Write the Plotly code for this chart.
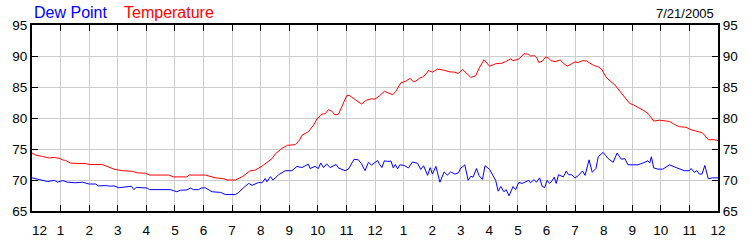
import plotly.graph_objects as go

# ---- data ----
hour_ticks = list(range(25))
hour_labels = ["\u00a0\u00a0\u00a0\u00a012", "1", "2", "3", "4", "5", "6", "7", "8", "9", "10", "11",
               "12", "1", "2", "3", "4", "5", "6", "7", "8", "9", "10", "11", "12"]
temp_ticks = [65, 70, 75, 80, 85, 90, 95]

temp_hours = [0, 0.14, 0.37, 0.6, 0.78, 0.95, 1.07, 1.18, 1.36, 1.88, 2.0, 2.46, 2.87, 3.16, 3.51, 3.68,
              3.97, 4.11, 4.78, 4.96, 5.42, 5.5, 6.06, 6.42, 6.71, 6.83, 7.12, 7.35, 7.62, 7.81, 8.05,
              8.22, 8.4, 8.51, 8.74, 8.94, 9.21, 9.36, 9.44, 9.67, 9.85, 9.97, 10.14, 10.26, 10.37,
              10.49, 10.6, 10.72, 10.84, 11.01, 11.1, 11.3, 11.53, 11.69, 11.88, 12.0, 12.15, 12.33,
              12.44, 12.62, 12.73, 12.9, 13.08, 13.23, 13.34, 13.43, 13.55, 13.66, 13.78, 13.87,
              14.01, 14.19, 14.42, 14.6, 14.77, 14.92, 15.06, 15.17, 15.35, 15.52, 15.64, 15.81,
              16.01, 16.22, 16.45, 16.57, 16.74, 16.83, 16.92, 17.03, 17.21, 17.36, 17.44, 17.58,
              17.67, 17.73, 17.85, 17.97, 18.08, 18.15, 18.3, 18.48, 18.59, 18.73, 18.88, 19.0,
              19.11, 19.26, 19.4, 19.52, 19.64, 19.81, 19.93, 20.0, 20.1, 20.22, 20.39, 20.56,
              20.74, 20.91, 21.03, 21.2, 21.38, 21.55, 21.67, 21.75, 21.95, 22.13, 22.3, 22.48,
              22.65, 22.88, 23.06, 23.23, 23.46, 23.55, 23.67, 23.87, 24.0]
temp_values = [74.35, 74.0, 73.8, 73.55, 73.65, 73.5, 73.25, 73.15, 72.7, 72.65, 72.5, 72.5, 71.75, 71.5,
               71.4, 71.15, 71.1, 70.8, 70.8, 70.5, 70.5, 70.8, 70.8, 70.35, 70.2, 70.0, 70.0, 70.5,
               71.45, 71.6, 72.25, 72.85, 73.45, 74.2, 75.1, 75.6, 75.7, 76.45, 77.2, 77.8, 78.85,
               79.85, 80.65, 80.7, 81.35, 81.1, 80.5, 80.6, 81.75, 83.6, 83.65, 82.95, 82.25, 82.85,
               83.1, 83.05, 83.55, 84.3, 84.1, 83.75, 84.3, 85.65, 85.95, 86.4, 85.85, 85.95, 86.4,
               86.6, 87.05, 87.65, 87.4, 87.9, 87.7, 87.45, 87.4, 87.2, 87.85, 87.3, 86.55, 86.8,
               88.0, 89.4, 88.35, 88.75, 88.85, 89.1, 89.55, 89.25, 89.4, 89.5, 90.35, 90.3, 90.0,
               90.05, 89.65, 88.95, 89.15, 89.85, 89.65, 89.25, 89.1, 89.35, 88.85, 88.35, 88.75,
               89.05, 88.95, 89.25, 89.2, 88.85, 88.5, 88.25, 87.9, 87.25, 86.5, 86.0, 85.35, 84.35,
               83.4, 82.35, 82.15, 81.75, 81.25, 80.75, 80.1, 79.5, 79.65, 79.5, 79.45, 78.95, 78.6,
               78.5, 78.1, 77.9, 77.6, 77.1, 76.5, 76.5, 76.35]

dew_hours = [0, 0.08, 0.26, 0.55, 0.78, 0.89, 1.07, 1.24, 1.53, 1.76, 2.0, 2.23, 2.32, 2.58, 2.75, 2.87,
             3.04, 3.22, 3.33, 3.48, 3.56, 3.65, 4.03, 4.11, 4.84, 4.92, 5.07, 5.19, 5.42, 5.54, 5.65,
             5.83, 5.92, 6.06, 6.3, 6.6, 6.77, 7.12, 7.23, 7.4, 7.58, 7.7, 7.93, 8.05, 8.16, 8.22,
             8.34, 8.43, 8.63, 8.86, 9.09, 9.27, 9.44, 9.56, 9.67, 9.73, 9.9, 10.02, 10.1, 10.2,
             10.31, 10.43, 10.64, 10.72, 10.84, 10.95, 11.07, 11.27, 11.42, 11.53, 11.65, 11.77,
             11.88, 12.0, 12.09, 12.15, 12.24, 12.33, 12.44, 12.56, 12.64, 12.71, 12.79, 12.87,
             13.02, 13.17, 13.31, 13.49, 13.6, 13.7, 13.84, 13.93, 14.01, 14.13, 14.27, 14.42,
             14.53, 14.65, 14.8, 14.92, 15.0, 15.06, 15.14, 15.26, 15.35, 15.43, 15.55, 15.64,
             15.76, 15.85, 16.01, 16.16, 16.22, 16.31, 16.4, 16.51, 16.59, 16.69, 16.83, 16.92,
             17.03, 17.15, 17.27, 17.38, 17.44, 17.56, 17.65, 17.76, 17.85, 17.94, 18.02, 18.11,
             18.19, 18.27, 18.34, 18.42, 18.54, 18.59, 18.69, 18.77, 18.88, 19.0, 19.11, 19.26,
             19.35, 19.49, 19.6, 19.73, 19.81, 19.98, 20.16, 20.33, 20.47, 20.62, 20.74, 20.85,
             21.03, 21.2, 21.38, 21.55, 21.61, 21.67, 21.75, 21.9, 22.07, 22.3, 22.48, 22.65,
             22.82, 23.0, 23.06, 23.17, 23.26, 23.35, 23.44, 23.54, 23.66, 23.81, 24.0]
dew_values = [70.35, 70.25, 70.05, 69.75, 69.95, 69.65, 69.9, 69.65, 69.55, 69.65, 69.35, 69.35, 69.05,
              69.1, 69.0, 69.05, 68.75, 68.85, 68.95, 69.0, 68.45, 68.8, 68.7, 68.45, 68.45, 68.3,
              68.1, 68.35, 68.4, 68.7, 68.45, 68.45, 68.7, 68.75, 68.1, 68.0, 67.65, 67.65, 68.0,
              68.75, 69.45, 69.15, 69.6, 69.55, 70.25, 69.7, 70.55, 70.0, 70.85, 71.5, 71.5, 72.2,
              72.0, 72.3, 72.55, 71.85, 72.2, 71.85, 72.75, 72.0, 72.6, 72.0, 72.5, 71.95, 71.75,
              71.5, 71.75, 73.35, 73.25, 72.6, 71.5, 72.85, 72.4, 72.9, 73.15, 72.6, 72.0, 73.1,
              73.0, 73.05, 71.95, 72.5, 71.8, 72.45, 72.35, 71.95, 72.9, 72.7, 71.7, 72.3, 70.75,
              72.0, 70.95, 72.2, 69.65, 71.3, 70.8, 71.3, 70.95, 71.15, 71.95, 72.1, 72.45, 69.95,
              70.6, 70.45, 71.85, 70.7, 70.1, 72.3, 71.7, 70.45, 69.95, 68.2, 68.95, 68.1, 68.45,
              67.45, 68.95, 68.45, 69.6, 69.45, 69.7, 69.95, 69.55, 70.05, 69.65, 70.35, 68.95,
              68.8, 69.95, 69.45, 69.85, 70.45, 69.45, 70.85, 70.6, 70.5, 71.45, 70.85, 70.85,
              70.35, 70.7, 71.45, 70.75, 73.25, 71.25, 71.85, 73.75, 74.45, 73.45, 72.85, 74.35,
              73.35, 73.45, 72.45, 72.45, 72.45, 72.75, 73.1, 72.75, 73.75, 71.95, 71.75, 71.75,
              72.45, 72.1, 71.85, 71.5, 71.5, 71.85, 71.25, 71.5, 70.95, 70.95, 72.35, 70.2, 70.35,
              70.35]

FONT = "Liberation Sans, Arial, sans-serif"

fig = go.Figure()
fig.add_trace(go.Scatter(x=dew_hours, y=dew_values, mode="lines", name="Dew Point",
                         line=dict(color="#0000ff", width=1), yaxis="y"))
fig.add_trace(go.Scatter(x=temp_hours, y=temp_values, mode="lines", name="Temperature",
                         line=dict(color="#ff0000", width=1), yaxis="y"))
# invisible trace so the right-hand axis is drawn
fig.add_trace(go.Scatter(x=[temp_hours[0]], y=[temp_values[0]], mode="lines", yaxis="y2",
                         showlegend=False, hoverinfo="skip", line=dict(width=0)))

axis_common = dict(showline=True, linecolor="black", linewidth=2, ticks="inside", ticklen=6,
                   tickcolor="black", tickwidth=1, tickfont=dict(family=FONT, size=13.5, color="black"),
                   zeroline=False)

fig.update_layout(
    width=750, height=250,
    margin=dict(l=31, r=30, t=25, b=25),
    paper_bgcolor="white", plot_bgcolor="white",
    showlegend=False,
    xaxis=dict(range=[0, 24], tickmode="array", tickvals=hour_ticks, ticktext=hour_labels,
               showgrid=True, gridcolor="#cccccc", gridwidth=1, mirror="ticks",
               ticklabelstandoff=6, **axis_common),
    yaxis=dict(range=[65, 95], tickmode="array", tickvals=temp_ticks,
               showgrid=True, gridcolor="#cccccc", gridwidth=1, mirror=True, **axis_common),
    yaxis2=dict(range=[65, 95], tickmode="array", tickvals=temp_ticks, overlaying="y", side="right",
                showgrid=False, **axis_common),
    annotations=[
        dict(text="Dew Point", x=31, xref="x domain", y=1, yref="paper", showarrow=False,
             xanchor="left", yanchor="bottom", font=dict(family=FONT, size=16, color="#0000ff")),
        dict(text="Temperature", x=121, xref="x domain", y=1, yref="paper", showarrow=False,
             xanchor="left", yanchor="bottom", font=dict(family=FONT, size=16, color="#ff0000")),
        dict(text="7/21/2005", x=1, xref="paper", y=1, yref="paper", showarrow=False,
             xanchor="right", yanchor="bottom", font=dict(family=FONT, size=13, color="black")),
    ],
)

# convert pixel positions of the header texts into paper fractions
plot_w = 750 - 31 - 30
for ann in fig.layout.annotations[:2]:
    ann.xref = "paper"
    ann.x = (ann.x - 31) / plot_w
fig.layout.annotations[2].xshift = -2
for ann in fig.layout.annotations:
    ann.yshift = 2

fig.write_html("out.html")
